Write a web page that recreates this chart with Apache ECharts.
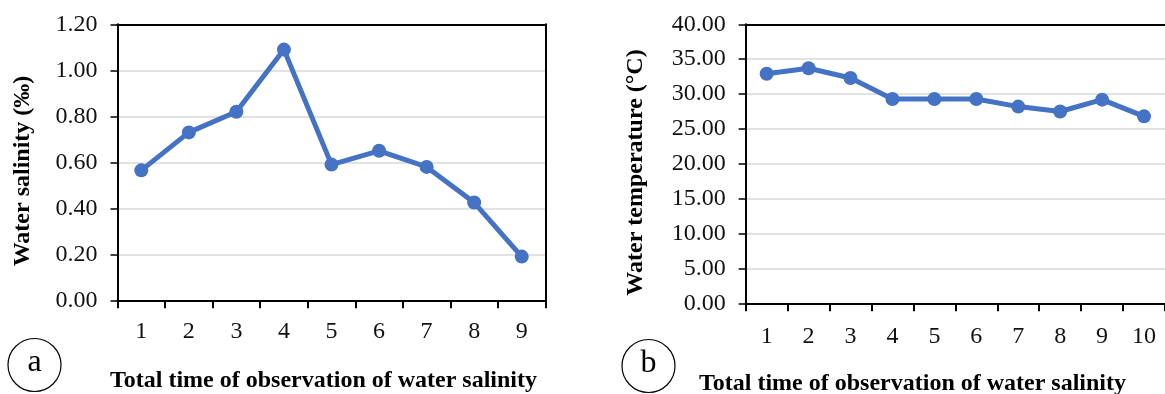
<!DOCTYPE html>
<html><head><meta charset="utf-8">
<script src="https://cdn.jsdelivr.net/npm/echarts@6/dist/echarts.min.js"></script>
<style>html,body{margin:0;padding:0;background:#fff}#c{width:1165px;height:394px}</style>
</head><body><div id="c"></div>
<script>
// ---- data ----
const salinityCategories = ['1','2','3','4','5','6','7','8','9'];
const salinityValues = [0.565, 0.73, 0.82, 1.09, 0.59, 0.65, 0.58, 0.425, 0.19];
const temperatureCategories = ['1','2','3','4','5','6','7','8','9','10'];
const temperatureValues = [32.9, 33.7, 32.3, 29.3, 29.3, 29.3, 28.2, 27.5, 29.2, 26.8];
const salinityAxis = { min: 0, max: 1.2, interval: 0.2 };
const temperatureAxis = { min: 0, max: 40, interval: 5 };
const salinityYTitle = 'Water salinity (‰)';
const temperatureYTitle = 'Water temperature (°C)';
const xTitle = 'Total time of observation of water salinity';
const panelLetters = ['a', 'b'];

// ---- style ----
const FONT = '"Liberation Serif", "Times New Roman", serif';
const BLUE = '#4472C4';
const GRID = '#d9d9d9';
const TXT = '#111';

function gridLineColors(n) { const a = []; for (let i = 0; i < n; i++) a.push(i === n - 1 ? 'rgba(0,0,0,0)' : GRID); return a; }

function xAxisMain(gi, cats, margin) {
  return {
    type: 'category', gridIndex: gi, data: cats, boundaryGap: true, position: 'bottom',
    axisLine: { show: true, onZero: false, lineStyle: { color: '#000', width: 2 } },
    axisTick: { show: true, inside: false, length: 8, alignWithLabel: false, lineStyle: { color: '#000', width: 2 } },
    axisLabel: { color: TXT, fontFamily: FONT, fontSize: 24, margin: margin, interval: 0 },
    splitLine: { show: false }
  };
}
function xAxisTop(gi, cats) {
  return {
    type: 'category', gridIndex: gi, data: cats, position: 'top',
    axisLine: { show: true, onZero: false, lineStyle: { color: '#000', width: 2 } },
    axisTick: { show: false }, axisLabel: { show: false }, splitLine: { show: false }
  };
}
function yAxisMain(gi, ax, nTicks) {
  return {
    type: 'value', gridIndex: gi, min: ax.min, max: ax.max, interval: ax.interval, position: 'left',
    axisLine: { show: true, onZero: false, lineStyle: { color: '#000', width: 2 } },
    axisTick: { show: true, inside: false, length: 7, lineStyle: { color: '#000', width: 1.5 } },
    axisLabel: { color: TXT, fontFamily: FONT, fontSize: 24, margin: 20, formatter: v => v.toFixed(2) },
    splitLine: { show: true, lineStyle: { color: gridLineColors(nTicks), width: 1.5 } }
  };
}

const chart = echarts.init(document.getElementById('c'), null, { renderer: 'canvas' });
chart.setOption({
  animation: false,
  backgroundColor: '#fff',
  grid: [
    { left: 117.5, top: 24.3, width: 428, height: 276 },
    { left: 745.7, top: 24.3, width: 428, height: 279 }
  ],
  xAxis: [
    xAxisMain(0, salinityCategories, 19),
    xAxisMain(1, temperatureCategories, 21),
    xAxisTop(0, salinityCategories),
    xAxisTop(1, temperatureCategories)
  ],
  yAxis: [
    yAxisMain(0, salinityAxis, 7),
    yAxisMain(1, temperatureAxis, 9),
    {
      type: 'value', gridIndex: 0, min: salinityAxis.min, max: salinityAxis.max, interval: salinityAxis.interval, position: 'right',
      axisLine: { show: true, onZero: false, lineStyle: { color: '#000', width: 2 } },
      axisTick: { show: false }, axisLabel: { show: false }, splitLine: { show: false }
    }
  ],
  series: [
    {
      type: 'line', xAxisIndex: 0, yAxisIndex: 0, data: salinityValues,
      symbol: 'circle', symbolSize: 14, lineStyle: { color: BLUE, width: 5 },
      itemStyle: { color: BLUE }, z: 5
    },
    {
      type: 'line', xAxisIndex: 1, yAxisIndex: 1, data: temperatureValues,
      symbol: 'circle', symbolSize: 14, lineStyle: { color: BLUE, width: 5 },
      itemStyle: { color: BLUE }, z: 5
    }
  ],
  graphic: [
    { type: 'text', x: 23, y: 171, rotation: Math.PI / 2,
      style: { text: salinityYTitle, fontFamily: FONT, fontSize: 24, fontWeight: 'bold', fill: '#000', align: 'center', verticalAlign: 'middle' } },
    { type: 'text', x: 636, y: 172.5, rotation: Math.PI / 2,
      style: { text: temperatureYTitle, fontFamily: FONT, fontSize: 24, fontWeight: 'bold', fill: '#000', align: 'center', verticalAlign: 'middle' } },
    { type: 'text', x: 323.5, y: 381,
      style: { text: xTitle, fontFamily: FONT, fontSize: 24, fontWeight: 'bold', fill: '#000', align: 'center', verticalAlign: 'middle' } },
    { type: 'text', x: 912.5, y: 384,
      style: { text: xTitle, fontFamily: FONT, fontSize: 24, fontWeight: 'bold', fill: '#000', align: 'center', verticalAlign: 'middle' } },
    { type: 'circle', shape: { cx: 34.5, cy: 365, r: 26.5 }, style: { fill: 'none', stroke: '#000', lineWidth: 1.2 } },
    { type: 'circle', shape: { cx: 648.5, cy: 366, r: 26.5 }, style: { fill: 'none', stroke: '#000', lineWidth: 1.2 } },
    { type: 'text', x: 34.5, y: 363,
      style: { text: panelLetters[0], fontFamily: FONT, fontSize: 32, fill: '#000', align: 'center', verticalAlign: 'middle' } },
    { type: 'text', x: 648.5, y: 364,
      style: { text: panelLetters[1], fontFamily: FONT, fontSize: 32, fill: '#000', align: 'center', verticalAlign: 'middle' } }
  ]
});
</script>
</body></html>
